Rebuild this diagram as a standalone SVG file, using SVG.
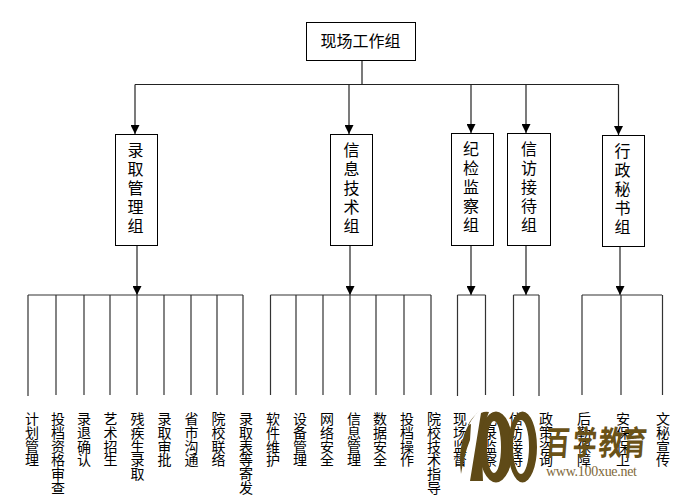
<svg xmlns="http://www.w3.org/2000/svg" width="696" height="503" viewBox="0 0 696 503">
<style>
text{font-family:"Noto Sans CJK SC","Liberation Sans",sans-serif;fill:#000}
.box{fill:#fff;stroke:#000;stroke-width:1}
.t{font-size:16px;text-anchor:middle}
.v{font-size:14px;writing-mode:vertical-rl;text-orientation:upright;letter-spacing:-.3px}
.n{font-size:16px;writing-mode:vertical-rl;text-orientation:upright;letter-spacing:3px}
#connectors path{fill:none;stroke:#222;stroke-width:1.2}
#connectors .h{stroke:#333}
.lg{fill:#5f4a17}
</style>
<defs><marker id="a" markerUnits="userSpaceOnUse" markerWidth="10" markerHeight="9" refX="9" refY="4.5" orient="auto"><path d="M0 0L9 4.5L0 9z" fill="#000"/></marker></defs>
<g id="connectors">
<path d="M362 60V84.500M135 84.500H618.500"/>
<path marker-end="url(#a)" d="M135 84.500V134"/>
<path marker-end="url(#a)" d="M349 84.500V134"/>
<path marker-end="url(#a)" d="M471 84.500V133"/>
<path marker-end="url(#a)" d="M526 84.500V133"/>
<path marker-end="url(#a)" d="M618.500 84.500V135"/>
<path marker-end="url(#a)" d="M137 246V295"/>
<path marker-end="url(#a)" d="M350 246V295"/>
<path marker-end="url(#a)" d="M471 245V295"/>
<path marker-end="url(#a)" d="M526 245V295"/>
<path marker-end="url(#a)" d="M620 246V295"/>
<path class="h" d="M28 295H243M28 295V396M56 295V395M84 295V395M110 295V395M137 295V395M164 295V395M191 295V395M217 295V395M243 295V395"/>
<path class="h" d="M270.500 295H431M270.500 295V395M296 295V395M323 295V395M350 295V395M376 295V395M404 295V395M431 295V395"/>
<path class="h" d="M457.500 295H485.500M457.500 295V396M485.500 295V395"/>
<path class="h" d="M513.500 295H539M513.500 295V396M539 295V396"/>
<path class="h" d="M582 295H662M582 295V395M621 295V395M662.500 295V395"/>
</g>
<g id="n0"><rect class="box" x="306.500" y="22.500" width="109" height="38"/><text class="t" x="360.500" y="47">现场工作组</text></g>
<g id="n1"><rect class="box" x="115.500" y="134.500" width="42" height="111"/><text class="n" x="135.500" y="142">录取管理组</text></g>
<g id="n2"><rect class="box" x="330.500" y="134.500" width="42" height="111"/><text class="n" x="351.500" y="142">信息技术组</text></g>
<g id="n3"><rect class="box" x="451.500" y="133.500" width="42" height="112"/><text class="n" x="471" y="141">纪检监察组</text></g>
<g id="n4"><rect class="box" x="507.500" y="133.500" width="43" height="112"/><text class="n" x="529" y="141">信访接待组</text></g>
<g id="n5"><rect class="box" x="602.500" y="135.500" width="42" height="111"/><text class="n" x="622.500" y="143">行政秘书组</text></g>
<g id="leaves">
<text class="v" x="32" y="412">计划管理</text>
<text class="v" x="58" y="412">投档资格审查</text>
<text class="v" x="84" y="412">录退确认</text>
<text class="v" x="110.500" y="412">艺术招生</text>
<text class="v" x="137.500" y="412">残疾生录取</text>
<text class="v" x="164.500" y="412">录取审批</text>
<text class="v" x="191.500" y="412">省市沟通</text>
<text class="v" x="218.500" y="412">院校联络</text>
<text class="v" x="246" y="412">录取表等寄发</text>
<text class="v" x="273" y="412">软件维护</text>
<text class="v" x="300" y="412">设备管理</text>
<text class="v" x="327" y="412">网络安全</text>
<text class="v" x="354" y="412">信息管理</text>
<text class="v" x="380" y="412">数据安全</text>
<text class="v" x="407" y="412">投档操作</text>
<text class="v" x="434" y="412">院校技术指导</text>
<text class="v" x="460" y="412">现场监督</text>
<text class="v" x="490" y="412">纪录监察</text>
<text class="v" x="516" y="412">信访接待</text>
<text class="v" x="546" y="412">政策咨询</text>
<text class="v" x="584" y="412">后勤保障</text>
<text class="v" x="623" y="412">安保保卫</text>
<text class="v" x="663" y="412">文秘宣传</text>
</g>
<g id="logo">
<path d="M467 483L480 411L492 411L489 420Q482 450 484 483Z" fill="#fff"/>
<path class="lg" d="M470 481L481 413Q485 411 489 412L486 420Q481 450 483 481Z"/>
<path class="lg" d="M461 474Q456 438 476 414L479 411Q470 420 468 425L471 424L470 440Q464 455 461 474Z"/>
<path class="lg" fill-rule="evenodd" d="M479 447a17 35.500 0 1 0 34 0a17 35.500 0 1 0 -34 0ZM487 447a7 26 0 1 1 14 0a7 26 0 1 1 -14 0Z"/>
<path class="lg" fill-rule="evenodd" d="M508 447a14.500 35.500 0 1 0 29 0a14.500 35.500 0 1 0 -29 0ZM513 447a8 27 0 1 1 16 0a8 27 0 1 1 -16 0Z"/>
<g transform="translate(0 455) scale(1 1.4) skewX(-6)"><text x="545 572 598 622" y="0" font-size="24" font-weight="700" style="font-family:'Noto Sans CJK SC',sans-serif;fill:#6a5218">百学教育</text></g>
<text x="546" y="476" font-size="14" textLength="91" style="font-family:'Liberation Serif',serif;fill:#80693a">www.100xue.net</text>
</g>
</svg>
